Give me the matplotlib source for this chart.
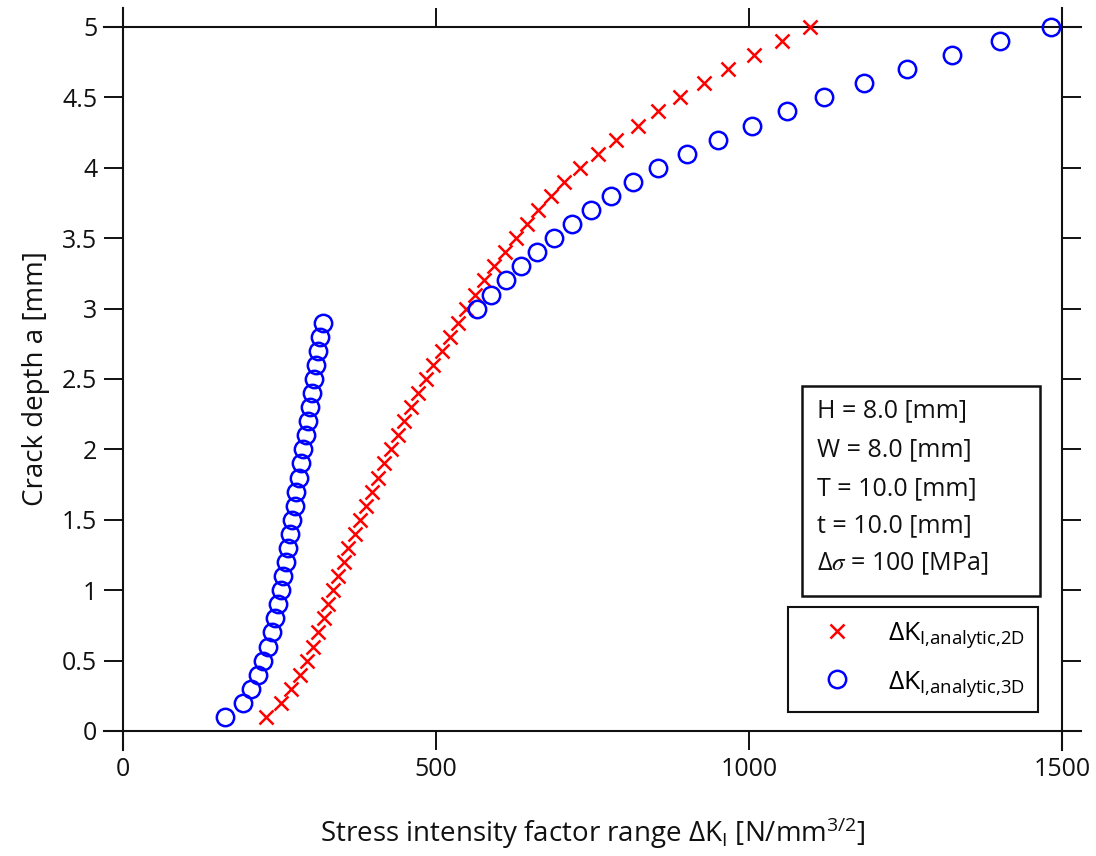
import matplotlib
matplotlib.use("Agg")
import matplotlib.pyplot as plt
from matplotlib.lines import Line2D
from matplotlib.patches import Rectangle
from matplotlib.ticker import FuncFormatter

plt.rcParams['font.family'] = ['Open Sans', 'DejaVu Sans']
plt.rcParams['mathtext.fontset'] = 'custom'
plt.rcParams['mathtext.rm'] = 'Open Sans'
plt.rcParams['mathtext.it'] = 'Open Sans:italic'
plt.rcParams['mathtext.default'] = 'regular'

# ---- data ----
depth_2d = [0.1, 0.2, 0.3, 0.4, 0.5, 0.6, 0.7, 0.8, 0.9, 1.0,
            1.1, 1.2, 1.3, 1.4, 1.5, 1.6, 1.7, 1.8, 1.9, 2.0,
            2.1, 2.2, 2.3, 2.4, 2.5, 2.6, 2.7, 2.8, 2.9, 3.0,
            3.1, 3.2, 3.3, 3.4, 3.5, 3.6, 3.7, 3.8, 3.9, 4.0,
            4.1, 4.2, 4.3, 4.4, 4.5, 4.6, 4.7, 4.8, 4.9, 5.0]
dk_2d = [229, 253, 269, 283, 294, 304, 312, 321, 328, 336,
         344, 353, 360, 370, 379, 388, 398, 408, 417, 428,
         439, 449, 460, 472, 484, 496, 509, 522, 535, 548,
         562, 577, 593, 610, 628, 646, 663, 683, 705, 730,
         758, 788, 822, 855, 890, 928, 967, 1008, 1052, 1097]

depth_3d = [0.1, 0.2, 0.3, 0.4, 0.5, 0.6, 0.7, 0.8, 0.9, 1.0,
            1.1, 1.2, 1.3, 1.4, 1.5, 1.6, 1.7, 1.8, 1.9, 2.0,
            2.1, 2.2, 2.3, 2.4, 2.5, 2.6, 2.7, 2.8, 2.9,
            3.0, 3.1, 3.2, 3.3, 3.4, 3.5, 3.6, 3.7, 3.8, 3.9, 4.0,
            4.1, 4.2, 4.3, 4.4, 4.5, 4.6, 4.7, 4.8, 4.9, 5.0]
dk_3d = [163, 191, 205, 216, 224, 232, 238, 243, 247, 252,
         256, 260, 263, 267, 270, 274, 277, 281, 285, 288,
         292, 295, 299, 302, 305, 308, 311, 315, 319,
         566, 588, 612, 636, 662, 688, 717, 748, 780, 814, 855,
         901, 951, 1004, 1060, 1120, 1184, 1252, 1325, 1401, 1483]

x_ticks = [0, 500, 1000, 1500]
y_ticks = [0, 0.5, 1, 1.5, 2, 2.5, 3, 3.5, 4, 4.5, 5]

info_lines = ["H = 8.0 [mm]", "W = 8.0 [mm]", "T = 10.0 [mm]", "t = 10.0 [mm]",
              r"$\Delta\mathit{\sigma}$ = 100 [MPa]"]
label_2d = r"ΔK$_{\mathregular{I{,}analytic{,}2D}}$"
label_3d = r"ΔK$_{\mathregular{I{,}analytic{,}3D}}$"

W, H = 1096, 856
fig = plt.figure(figsize=(W / 100, H / 100), dpi=100)
ax = fig.add_axes([123 / W, 1 - 731 / H, (1062 - 123) / W, (731 - 27) / H])

ax.plot(dk_2d, depth_2d, linestyle='none', marker='x', color='red',
        markersize=9.5, markeredgewidth=1.8, label=label_2d, clip_on=False, zorder=3)
ax.plot(dk_3d, depth_3d, linestyle='none', marker='o', markerfacecolor='none',
        markeredgecolor='blue', markersize=12.5, markeredgewidth=1.8, label=label_3d,
        clip_on=False, zorder=3)

ax.set_xlim(0, 1500)
ax.set_ylim(0, 5)
ax.set_xticks(x_ticks)
ax.set_yticks(y_ticks)
ax.yaxis.set_major_formatter(FuncFormatter(lambda v, p: "%g" % v))
ax.xaxis.set_major_formatter(FuncFormatter(lambda v, p: "%g" % v))
ax.tick_params(direction='out', length=13.5, width=1.4, labelsize=18,
               top=True, right=True, pad=5, color='#111111', labelcolor='#111111')

for s in ax.spines.values():
    s.set_visible(False)
ex = 19 / 939
ey = 19 / 704
lkw = dict(transform=ax.transAxes, color='#111111', linewidth=1.5, clip_on=False, zorder=2)
ax.add_line(Line2D([-ex, 1 + ex], [0, 0], **lkw))
ax.add_line(Line2D([-ex, 1 + ex], [1, 1], **lkw))
ax.add_line(Line2D([0, 0], [-ey, 1 + ey], **lkw))
ax.add_line(Line2D([1, 1], [-ey, 1 + ey], **lkw))

ax.set_xlabel(r"Stress intensity factor range ΔK$_{\mathregular{I}}$ [N/mm$^{\mathregular{3/2}}$]",
              fontsize=20, labelpad=24, color='#111111')
ax.set_ylabel("Crack depth a [mm]", fontsize=20, labelpad=9, color='#111111')

# info box
fig.patches.append(Rectangle((802 / W, 1 - 596 / H), (1040 - 802) / W, (596 - 386) / H,
                             transform=fig.transFigure, fill=False, edgecolor='#111111',
                             linewidth=1.8, zorder=5))
ys = [411, 450, 489, 526, 564]
for yy, t in zip(ys, info_lines):
    kw = {}
    if t.startswith("$"):
        kw['math_fontfamily'] = 'stix'
    fig.text(817 / W, 1 - yy / H, t, fontsize=18, va='center', ha='left',
             color='#111111', **kw)

leg = ax.legend(loc='upper left', bbox_to_anchor=(788 / W, 1 - 607 / H),
                bbox_transform=fig.transFigure, frameon=True, fancybox=False,
                fontsize=19, borderpad=0.5, labelspacing=0.7, handlelength=2.75,
                handletextpad=0.55, borderaxespad=0, framealpha=1)
leg.get_frame().set_edgecolor('#111111')
leg.get_frame().set_linewidth(1.5)

fig.savefig("out.png", dpi=100)
